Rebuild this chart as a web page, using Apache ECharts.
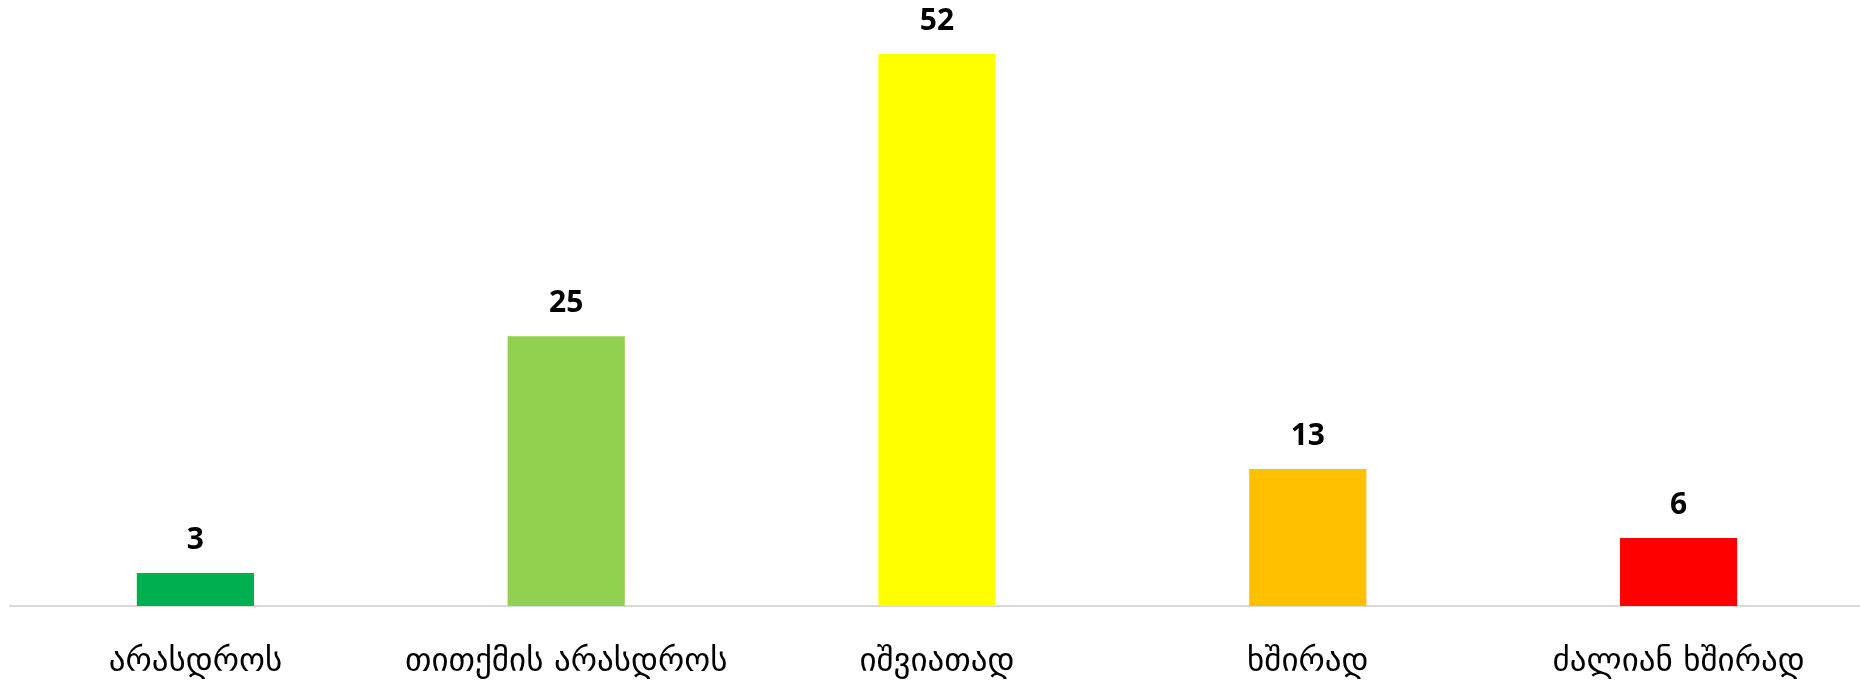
<!DOCTYPE html>
<html><head><meta charset="utf-8">
<script src="https://cdn.jsdelivr.net/npm/echarts@6/dist/echarts.min.js"></script>
<style>html,body{margin:0;padding:0;background:#fff;overflow:hidden}#c{width:1864px;height:681px}</style>
</head><body><div id="c"></div>
<script>
const categories = ['არასდროს', 'თითქმის არასდროს', 'იშვიათად', 'ხშირად', 'ძალიან ხშირად'];
const values = [3.1, 25.4, 52.0, 12.9, 6.4];
const colors = ['#00B050', '#92D050', '#FFFF00', '#FFC000', '#FF0000'];

const chart = echarts.init(document.getElementById('c'));
chart.setOption({
  animation: false,
  grid: { left: 10, right: 0, top: 54, bottom: 75, containLabel: false },
  xAxis: {
    type: 'category',
    data: categories,
    axisLine: { lineStyle: { color: '#D9D9D9', width: 2 } },
    axisTick: { show: false },
    axisLabel: { interval: 0, color: '#000', fontSize: 33, fontFamily: 'DejaVu Sans', margin: 40 }
  },
  yAxis: { type: 'value', min: 0, max: 52, show: false, splitLine: { show: false } },
  series: [{
    type: 'bar',
    barWidth: '31.6%',
    data: values.map((v, i) => ({ value: v, itemStyle: { color: colors[i] } })),
    label: {
      show: true, position: 'top', distance: 18, color: '#000', fontWeight: 'bold', fontSize: 30, fontFamily: 'Open Sans',
      formatter: p => String(Math.round(p.value))
    }
  }]
});
</script></body></html>
